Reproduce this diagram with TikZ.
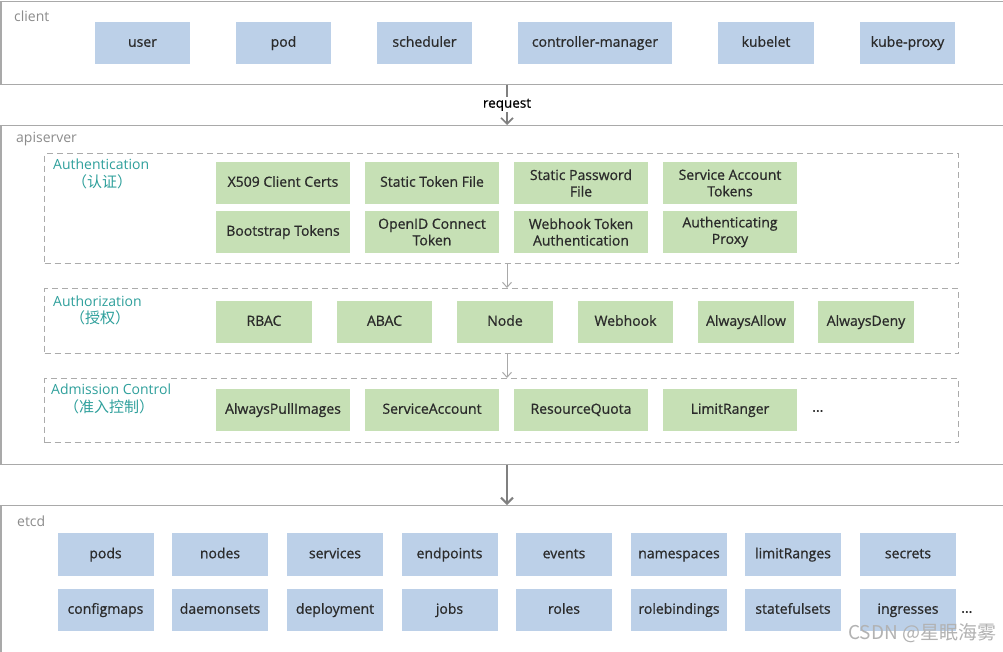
\documentclass[tikz,border=0pt]{standalone}
\usepackage{fontspec}
\setmainfont{Open Sans}
\newfontfamily\cellfont{Open Sans}[RawFeature={embolden=0.8}]
\newfontfamily\cjk{Noto Sans CJK SC}
\usetikzlibrary{arrows.meta}
\definecolor{bandline}{HTML}{A9A9A9}
\definecolor{dashline}{HTML}{ABABAB}
\definecolor{blueC}{HTML}{BCD0E8}
\definecolor{greenC}{HTML}{C6E0B5}
\definecolor{tealC}{HTML}{2FA09C}
\definecolor{txtC}{HTML}{2B2B2B}
\definecolor{grayTxt}{HTML}{8C8C8C}
\tikzset{
  band/.style={draw=bandline, line width=1.2pt, fill=white, inner sep=0, anchor=north west},
  dbox/.style={draw=dashline, dash pattern=on 6pt off 4pt, line width=1pt, inner sep=0, anchor=north west},
  cell/.style={inner sep=0, align=center, text=txtC, font=\cellfont\fontsize{14}{16.5}\selectfont, minimum height=42},
  one/.style={text height=10.5pt, text depth=3pt},
  bcell/.style={cell, fill=blueC},
  gcell/.style={cell, fill=greenC},
  bandlabel/.style={anchor=west, text=grayTxt, font=\fontsize{14}{16}\selectfont, inner sep=0},
  seclabel/.style={anchor=west, text=tealC, font=\fontsize{14}{16}\selectfont, inner sep=0},
  cnlabel/.style={anchor=west, text=tealC, font=\cjk\fontsize{15}{17}\selectfont, inner sep=0},
  thinarrow/.style={draw=bandline, line width=1pt, -{Straight Barb[length=5pt,width=9pt]}},
  thickarrow/.style={draw=gray, line width=2pt, -{Straight Barb[length=6pt,width=12pt]}},
}
\begin{document}
\begin{tikzpicture}[x=1pt,y=-1pt]
\useasboundingbox (0,0) rectangle (1003,651);
% bands
\node[band, minimum width=1010, minimum height=83] (client) at (0.5,0.5) {};
\node[band, minimum width=1010, minimum height=339] (api) at (0.5,125) {};
\node[band, minimum width=1010, minimum height=160] (etcd) at (0.5,505) {};
\node[bandlabel] (clientlbl) at (14,16) {client};
\node[bandlabel] (apilbl) at (16,139) {apiserver};
\node[bandlabel] (etcdlbl) at (17,521) {etcd};
% client cells
\node[bcell, one, minimum width=95] (user) at (142.5,43) {user};
\node[bcell, one, minimum width=95] (pod) at (283.5,43) {pod};
\node[bcell, one, minimum width=95] (sched) at (424.5,43) {scheduler};
\node[bcell, one, minimum width=154] (cm) at (595,43) {controller-manager};
\node[bcell, one, minimum width=96] (kubelet) at (766,43) {kubelet};
\node[bcell, one, minimum width=95] (kproxy) at (907.5,43) {kube-proxy};
% request arrow
\coordinate (ax) at (507,0);
\draw[thickarrow, line width=1.6pt] (client.south -| ax) -- node[fill=white, inner sep=1.5pt, text=black, font=\cellfont\fontsize{13.5}{15}\selectfont] (req) {request} (api.north -| ax);
% authentication
\node[dbox, minimum width=914, minimum height=110] (authn) at (44,153) {};
\node[seclabel] (authnlbl) at (53,164) {Authentication};
\node[cnlabel] (authncn) at (72,182) {（认证）};
\node[gcell, one, minimum width=134] (x509) at (283,183) {X509 Client Certs};
\node[gcell, one, minimum width=134] (stf) at (432,183) {Static Token File};
\node[gcell, minimum width=134] (spf) at (581,183) {Static Password\\File};
\node[gcell, minimum width=134] (sat) at (730,183) {Service Account\\Tokens};
\node[gcell, one, minimum width=134] (bt) at (283,232) {Bootstrap Tokens};
\node[gcell, minimum width=134] (oidc) at (432,232) {OpenID Connect\\Token};
\node[gcell, minimum width=134] (wta) at (581,232) {Webhook Token\\Authentication};
\node[gcell, minimum width=134] (ap) at (730,232) {Authenticating\\Proxy};
% authorization
\node[dbox, minimum width=914, minimum height=65] (authz) at (44,288) {};
\node[seclabel] (authzlbl) at (53,301) {Authorization};
\node[cnlabel] (authzcn) at (70,318) {（授权）};
\node[gcell, one, minimum width=96] (rbac) at (264,322) {RBAC};
\node[gcell, one, minimum width=95] (abac) at (384.5,322) {ABAC};
\node[gcell, one, minimum width=96] (node) at (505,322) {Node};
\node[gcell, one, minimum width=95] (webhook) at (625.5,322) {Webhook};
\node[gcell, one, minimum width=96] (aallow) at (746,322) {AlwaysAllow};
\node[gcell, one, minimum width=96] (adeny) at (866,322) {AlwaysDeny};
% admission
\node[dbox, minimum width=914, minimum height=64] (adm) at (44,378) {};
\node[seclabel] (admlbl) at (51,389) {Admission Control};
\node[cnlabel] (admcn) at (64,407) {（准入控制）};
\node[gcell, one, minimum width=134] (api1) at (283,410) {AlwaysPullImages};
\node[gcell, one, minimum width=134] (sa) at (432,410) {ServiceAccount};
\node[gcell, one, minimum width=134] (rq) at (581,410) {ResourceQuota};
\node[gcell, one, minimum width=134] (lr) at (730,410) {LimitRanger};
\node[anchor=west, inner sep=0, text=txtC, font=\cellfont\fontsize{14}{16}\selectfont] (admdots) at (812,411) {...};
% small arrows
\draw[thinarrow] (authn.south -| ax) -- (authz.north -| ax);
\draw[thinarrow] (authz.south -| ax) -- (adm.north -| ax);
% big arrow
\draw[thickarrow] (api.south -| ax) -- (etcd.north -| ax);
% etcd cells
\foreach \n/\t/\xx in {e1/pods/105.5, e2/nodes/220, e3/services/335, e4/endpoints/449.5, e5/events/564, e6/namespaces/679, e7/limitRanges/793, e8/secrets/908}
  \node[bcell, one, minimum width=96, minimum height=43] (\n) at (\xx,554.5) {\t};
\foreach \n/\t/\xx in {f1/configmaps/105.5, f2/daemonsets/220, f3/deployment/335, f4/jobs/449.5, f5/roles/564, f6/rolebindings/679, f7/statefulsets/793, f8/ingresses/908}
  \node[bcell, one, minimum width=96, minimum height=42] (\n) at (\xx,610) {\t};
\node[anchor=west, inner sep=0, text=txtC, font=\cellfont\fontsize{14}{16}\selectfont] (etcddots) at (961,612) {...};
% watermark
\node[anchor=west, inner sep=0, text=black!30, font=\cjk\fontsize{19}{21}\selectfont] (wm) at (848,633) {CSDN @星眠海雾};
\end{tikzpicture}
\end{document}
